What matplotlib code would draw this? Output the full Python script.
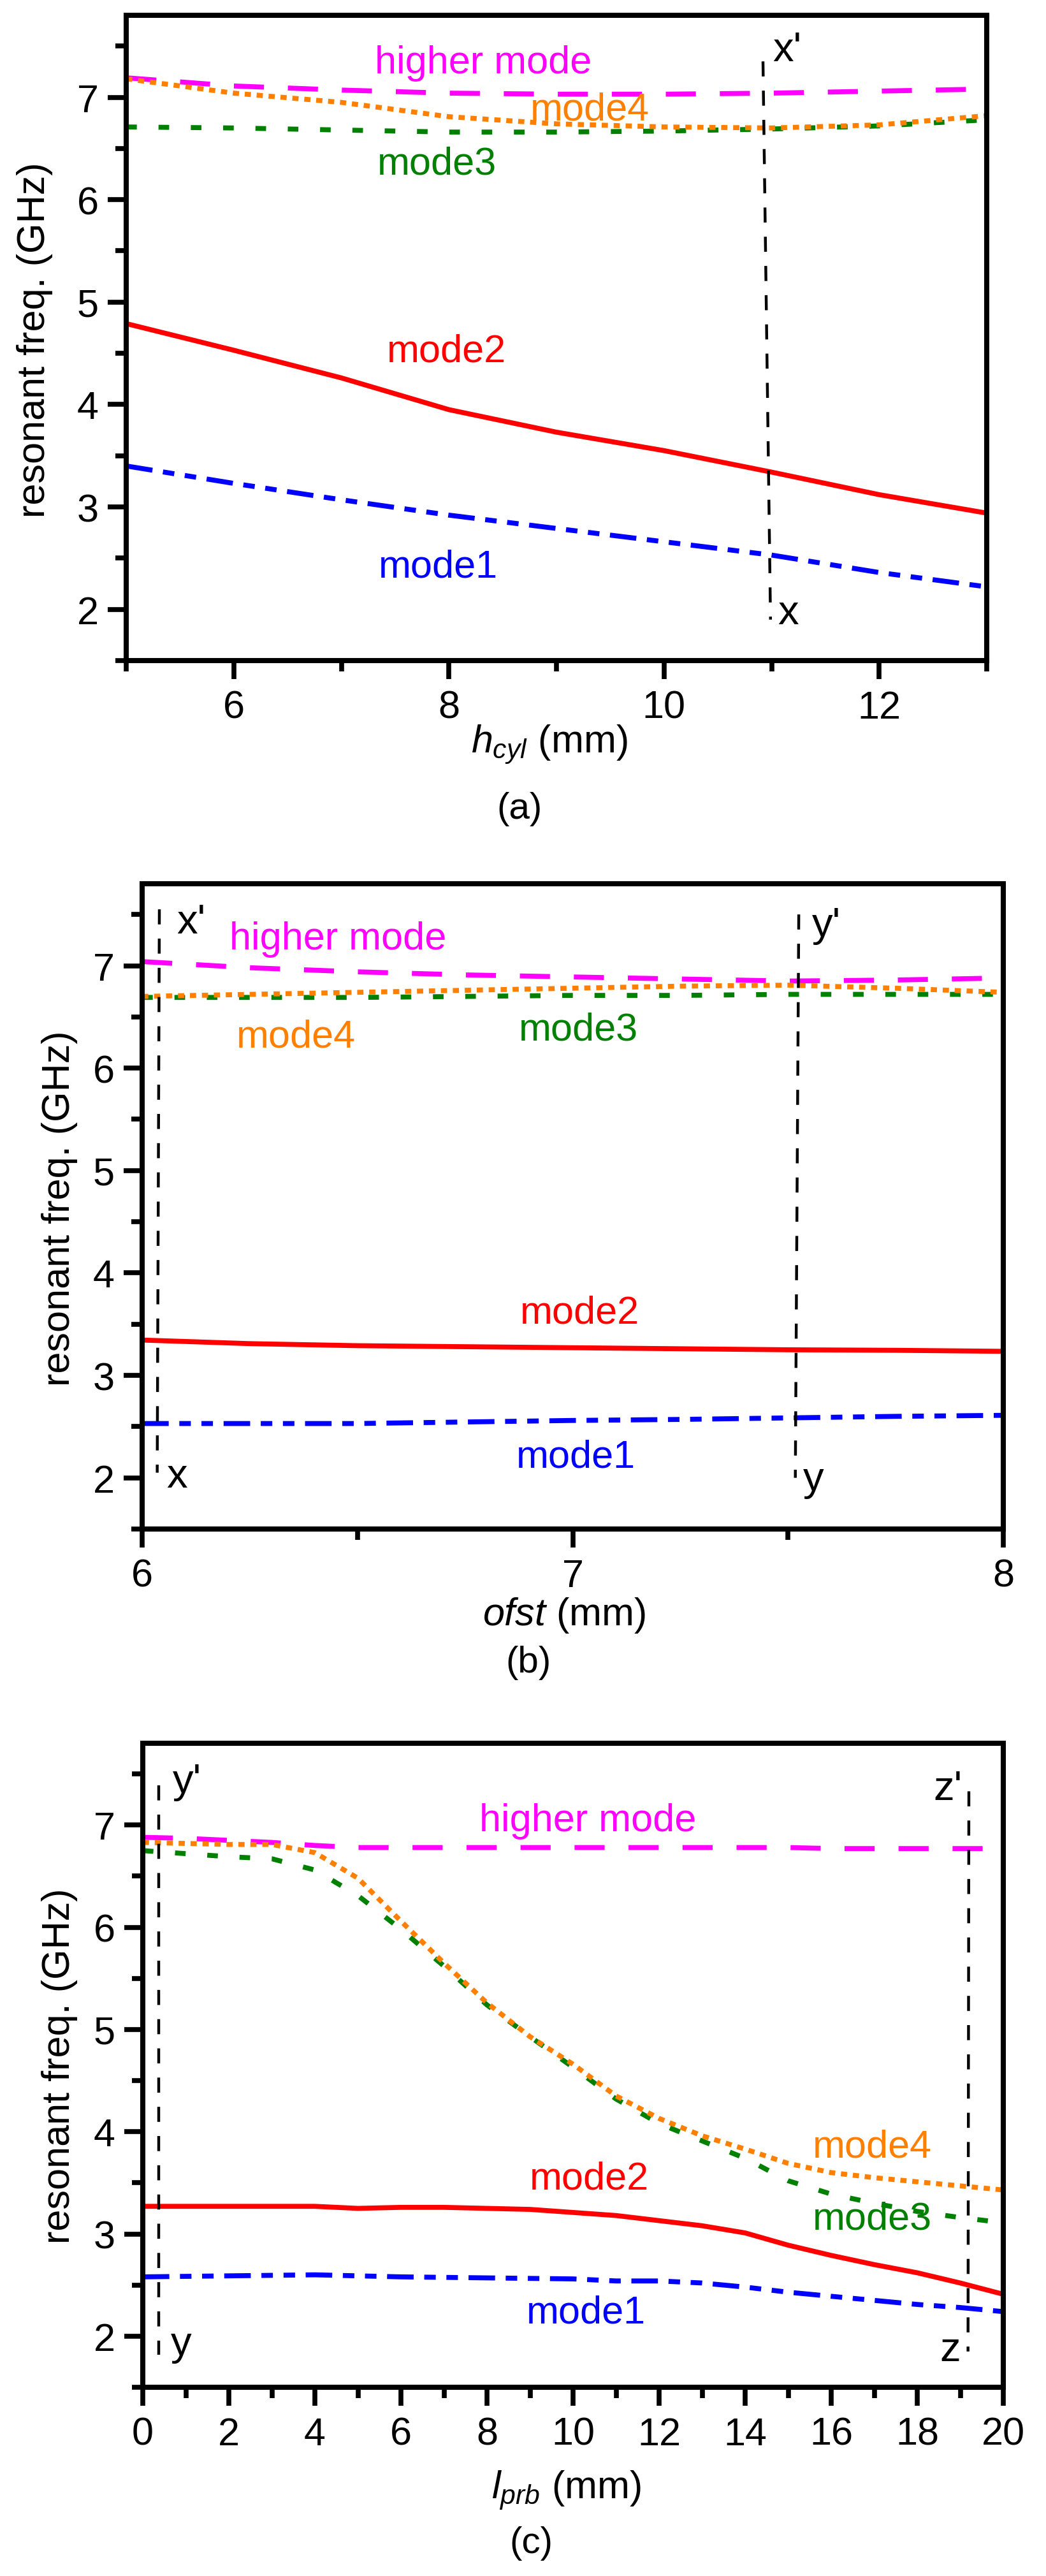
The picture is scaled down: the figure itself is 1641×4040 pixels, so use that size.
import matplotlib
matplotlib.use('Agg')
import matplotlib.pyplot as plt
from matplotlib.ticker import MultipleLocator

plt.rcParams['font.family'] = ['Liberation Sans', 'DejaVu Sans']
plt.rcParams['mathtext.fontset'] = 'custom'
plt.rcParams['mathtext.rm'] = 'Liberation Sans'
plt.rcParams['mathtext.it'] = 'Liberation Sans:italic'
plt.rcParams['lines.scale_dashes'] = False

# ---------------- data ----------------
# panel (a): h_cyl sweep
a_x = [5, 6, 7, 8, 9, 10, 11, 12, 13]
a_mode1 = [3.40, 3.23, 3.07, 2.92, 2.79, 2.66, 2.53, 2.36, 2.22]
a_mode2 = [4.79, 4.53, 4.26, 3.95, 3.73, 3.55, 3.34, 3.12, 2.94]
a_mode3 = [6.71, 6.70, 6.68, 6.66, 6.66, 6.67, 6.69, 6.72, 6.78]
a_mode4 = [7.18, 7.04, 6.95, 6.81, 6.74, 6.71, 6.70, 6.73, 6.82]
a_higher = [7.19, 7.11, 7.07, 7.04, 7.03, 7.03, 7.04, 7.06, 7.08]
a_cut_x = [10.92, 10.99]
a_cut_y = [7.35, 1.90]

# panel (b): ofst sweep
b_x = [6.0, 6.25, 6.5, 6.75, 7.0, 7.25, 7.5, 7.75, 8.0]
b_mode1 = [2.53, 2.53, 2.53, 2.545, 2.56, 2.57, 2.585, 2.60, 2.61]
b_mode2 = [3.345, 3.31, 3.29, 3.28, 3.27, 3.26, 3.25, 3.245, 3.235]
b_mode3 = [6.69, 6.69, 6.69, 6.70, 6.71, 6.71, 6.72, 6.72, 6.72]
b_mode4 = [6.70, 6.72, 6.74, 6.76, 6.78, 6.80, 6.81, 6.78, 6.74]
b_higher = [7.04, 6.98, 6.94, 6.91, 6.89, 6.87, 6.85, 6.86, 6.88]
b_cut1_x = [6.04, 6.035]
b_cut1_y = [7.55, 2.05]
b_cut2_x = [7.525, 7.517]
b_cut2_y = [7.50, 2.00]

# panel (c): l_prb sweep
c_x = list(range(0, 21))
c_mode1 = [2.58, 2.585, 2.59, 2.595, 2.60, 2.59, 2.58, 2.575, 2.57, 2.565, 2.56,
           2.54, 2.54, 2.52, 2.48, 2.43, 2.39, 2.35, 2.31, 2.28, 2.24]
c_mode2 = [3.27, 3.27, 3.27, 3.27, 3.27, 3.25, 3.26, 3.26, 3.25, 3.24, 3.21,
           3.18, 3.13, 3.08, 3.01, 2.89, 2.79, 2.70, 2.62, 2.52, 2.41]
c_mode3 = [6.75, 6.72, 6.69, 6.67, 6.56, 6.31, 5.98, 5.62, 5.24, 4.93, 4.63,
           4.32, 4.08, 3.91, 3.74, 3.52, 3.39, 3.30, 3.22, 3.16, 3.11]
c_mode4 = [6.83, 6.82, 6.81, 6.81, 6.73, 6.48, 6.06, 5.65, 5.26, 4.93, 4.66,
           4.35, 4.13, 3.96, 3.83, 3.69, 3.60, 3.55, 3.51, 3.47, 3.43]
c_higher = [6.88, 6.87, 6.85, 6.83, 6.80, 6.78, 6.78, 6.78, 6.78, 6.78, 6.78,
            6.78, 6.78, 6.78, 6.78, 6.78, 6.77, 6.77, 6.77, 6.77, 6.77]
c_cut1_x = [0.37, 0.37]
c_cut1_y = [7.39, 1.82]
c_cut2_x = [19.20, 19.18]
c_cut2_y = [7.33, 1.85]

y_label = 'resonant freq. (GHz)'
mode_names = ['mode1', 'mode2', 'mode3', 'mode4', 'higher mode']

# ---------------- styles ----------------
W, H = 1641, 4041
LW = 5.6
FS = 44
FS_LET = 47
C_MAG = '#FF00FF'
C_ORG = '#FF8000'
C_GRN = '#008000'
C_RED = '#FF0000'
C_BLU = '#0000FF'

fig = plt.figure(figsize=(W / 100, H / 100), dpi=100)
fig.patch.set_facecolor('white')


def make_axes(l, r, t, b):
    return fig.add_axes([l / W, 1 - b / H, (r - l) / W, (b - t) / H])


def style_axes(ax, xlim, xmaj, xmin):
    ax.set_xlim(*xlim)
    ax.set_ylim(1.5, 7.8)
    ax.xaxis.set_major_locator(MultipleLocator(xmaj))
    ax.xaxis.set_minor_locator(MultipleLocator(xmin))
    ax.yaxis.set_major_locator(MultipleLocator(1))
    ax.yaxis.set_minor_locator(MultipleLocator(0.5))
    for s in ax.spines.values():
        s.set_linewidth(5.8)
    ax.tick_params(which='major', direction='out', length=21, width=5.5,
                   labelsize=FS, top=False, right=False)
    ax.tick_params(which='minor', direction='out', length=12, width=5.5,
                   top=False, right=False)
    ax.tick_params(axis='x', which='major', pad=12)
    ax.tick_params(axis='y', which='major', pad=10)


def draw_modes(ax, x, m1, m2, m3, m4, hi):
    ax.plot(x, hi, color=C_MAG, lw=LW, dashes=(34, 27), solid_capstyle='butt',
            dash_capstyle='butt')
    ax.plot(x, m3, color=C_GRN, lw=LW, dashes=(12, 24.5), dash_capstyle='butt')
    ax.plot(x, m4, color=C_ORG, lw=LW, dashes=(7, 6.5), dash_capstyle='butt')
    ax.plot(x, m2, color=C_RED, lw=LW, solid_capstyle='butt')
    ax.plot(x, m1, color=C_BLU, lw=LW, dashes=(30, 12, 13, 12, 13, 12),
            dash_capstyle='butt')


def cut_line(ax, xs, ys):
    ax.plot(xs, ys, color='black', lw=3.2, dashes=(17, 16), dash_capstyle='butt')


def label(ax, x, y, s, c):
    ax.text(x, y, s, color=c, fontsize=FS, ha='center', va='baseline')


def letter(ax, x, y, s):
    ax.text(x, y, s, color='black', fontsize=FS_LET, ha='left', va='baseline')


# ---------------- panel (a) ----------------
axa = make_axes(198, 1548, 25, 1037)
style_axes(axa, (5, 13), 2, 1)
draw_modes(axa, a_x, a_mode1, a_mode2, a_mode3, a_mode4, a_higher)
cut_line(axa, a_cut_x, a_cut_y)
label(axa, 8.32, 7.24, mode_names[4], C_MAG)
label(axa, 9.31, 6.78, mode_names[3], C_ORG)
label(axa, 7.89, 6.25, mode_names[2], C_GRN)
label(axa, 7.98, 4.42, mode_names[1], C_RED)
label(axa, 7.90, 2.32, mode_names[0], C_BLU)
letter(axa, 11.01, 7.36, "x'")
letter(axa, 11.06, 1.86, 'x')

# ---------------- panel (b) ----------------
axb = make_axes(223, 1574, 1387, 2399)
style_axes(axb, (6, 8), 1, 0.5)
draw_modes(axb, b_x, b_mode1, b_mode2, b_mode3, b_mode4, b_higher)
cut_line(axb, b_cut1_x, b_cut1_y)
cut_line(axb, b_cut2_x, b_cut2_y)
label(axb, 6.455, 7.165, mode_names[4], C_MAG)
label(axb, 6.358, 6.21, mode_names[3], C_ORG)
label(axb, 7.013, 6.28, mode_names[2], C_GRN)
label(axb, 7.017, 3.515, mode_names[1], C_RED)
label(axb, 7.007, 2.106, mode_names[0], C_BLU)
letter(axb, 6.081, 7.32, "x'")
letter(axb, 6.057, 1.91, 'x')
letter(axb, 7.555, 7.29, "y'")
letter(axb, 7.535, 1.88, 'y')

# ---------------- panel (c) ----------------
axc = make_axes(224, 1574, 2735, 3745)
style_axes(axc, (0, 20), 2, 1)
draw_modes(axc, c_x, c_mode1, c_mode2, c_mode3, c_mode4, c_higher)
cut_line(axc, c_cut1_x, c_cut1_y)
cut_line(axc, c_cut2_x, c_cut2_y)
label(axc, 10.35, 6.948, mode_names[4], C_MAG)
label(axc, 16.96, 3.756, mode_names[3], C_ORG)
label(axc, 16.96, 3.05, mode_names[2], C_GRN)
label(axc, 10.38, 3.44, mode_names[1], C_RED)
label(axc, 10.30, 2.13, mode_names[0], C_BLU)
letter(axc, 0.70, 7.32, "y'")
letter(axc, 0.65, 1.82, 'y')
letter(axc, 18.37, 7.25, "z'")
letter(axc, 18.53, 1.76, 'z')

# ---------------- axis titles and captions ----------------
for xc, yc in [(55, 533), (94, 1895), (94, 3240)]:
    fig.text(xc / W, 1 - yc / H, y_label, rotation=90, fontsize=FS,
             ha='center', va='center')

fig.text(862 / W, 1 - 1180 / H, r'$h_{cyl}$ (mm)', fontsize=FS,
         ha='center', va='baseline')
fig.text(885 / W, 1 - 2549 / H, r'$ofst$ (mm)', fontsize=FS,
         ha='center', va='baseline')
fig.text(888 / W, 1 - 3918 / H, r'$l_{prb}$ (mm)', fontsize=FS,
         ha='center', va='baseline')

fig.text(815 / W, 1 - 1269 / H, '(a)', fontsize=FS - 2, ha='center', va='center')
fig.text(829 / W, 1 - 2608 / H, '(b)', fontsize=FS - 2, ha='center', va='center')
fig.text(833 / W, 1 - 3989 / H, '(c)', fontsize=FS - 2, ha='center', va='center')

fig.savefig('out.png', dpi=100, facecolor='white')
